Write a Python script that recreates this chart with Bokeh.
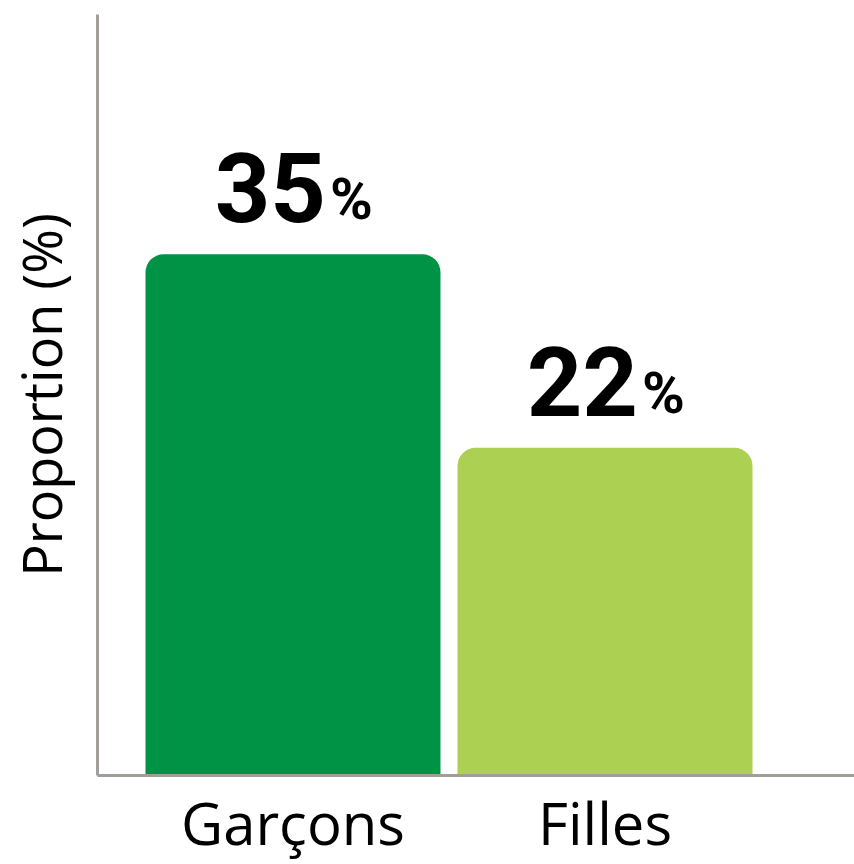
from bokeh.plotting import figure
from bokeh.models import Range1d, FixedTicker, ColumnDataSource, LabelSet
from bokeh.core.properties import value
from bokeh.embed import file_html
from bokeh.resources import INLINE

categories = ["Garçons", "Filles"]
proportions = [35, 22]
bar_colors = ["#009245", "#acd052"]
y_max = 51.1

xs = [i + 0.5 for i in range(len(categories))]
src = ColumnDataSource(dict(
    x=xs, top=proportions, color=bar_colors,
    num=[str(v) for v in proportions], pct=["%"] * len(proportions),
))

p = figure(width=854, height=864, output_backend="svg", toolbar_location=None,
           x_range=Range1d(-0.1266, 2.2997), y_range=Range1d(0, y_max),
           min_border_left=97, min_border_right=0, min_border_top=14, min_border_bottom=89)
p.outline_line_color = None
p.grid.visible = False
p.background_fill_color = "white"
p.border_fill_color = "white"

p.vbar(x="x", top="top", bottom=0, width=0.9455, color="color", source=src,
       line_color=None, border_radius=(18, 18, 0, 0))

p.add_layout(LabelSet(x="x", y="top", text="num", source=src, x_offset=33, y_offset=32,
                      text_align="right", text_baseline="alphabetic",
                      text_font=value("Roboto"), text_font_style="bold",
                      text_font_size="97px", text_color="black"))
p.add_layout(LabelSet(x="x", y="top", text="pct", source=src, x_offset=37, y_offset=35,
                      text_align="left", text_baseline="alphabetic",
                      text_font=value("Roboto"), text_font_style="bold",
                      text_font_size="58px", text_color="black"))

ax = p.xaxis[0]
ax.ticker = FixedTicker(ticks=xs)
ax.major_label_overrides = {x: c for x, c in zip(xs, categories)}
ax.axis_line_color = "#a19d99"
ax.axis_line_width = 3
ax.major_tick_line_color = None
ax.minor_tick_line_color = None
ax.major_tick_out = 0
ax.major_label_text_font = "Open Sans"
ax.major_label_text_font_size = "58px"
ax.major_label_text_color = "black"
ax.major_label_standoff = 7

ay = p.yaxis[0]
ay.ticker = FixedTicker(ticks=[])
ay.axis_line_color = "#a19d99"
ay.axis_line_width = 3
ay.major_tick_line_color = None
ay.minor_tick_line_color = None
ay.major_tick_out = 0
ay.axis_label = "Proportion (%)"
ay.axis_label_text_font = "Open Sans"
ay.axis_label_text_font_style = "normal"
ay.axis_label_text_font_size = "54px"
ay.axis_label_text_color = "black"
ay.axis_label_standoff = 20

open("out.html", "w").write(file_html(p, INLINE))
